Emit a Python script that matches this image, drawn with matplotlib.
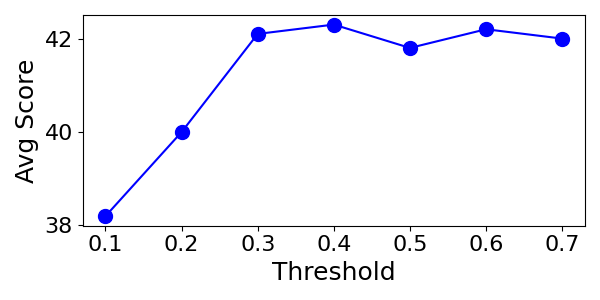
import matplotlib
matplotlib.use('Agg')
import matplotlib.pyplot as plt

thresholds = [0.1, 0.2, 0.3, 0.4, 0.5, 0.6, 0.7]
avg_scores = [38.2, 40.0, 42.1, 42.3, 41.8, 42.2, 42.0]

fig, ax = plt.subplots(figsize=(6, 3), dpi=100)
ax.plot(thresholds, avg_scores, 'o-', color='blue', markersize=10)
ax.set_xlabel('Threshold', fontsize=18)
ax.set_ylabel('Avg Score', fontsize=18)
ax.set_xticks(thresholds)
ax.set_yticks([38, 40, 42])
ax.tick_params(labelsize=16)
plt.tight_layout()
plt.savefig('out.png')
